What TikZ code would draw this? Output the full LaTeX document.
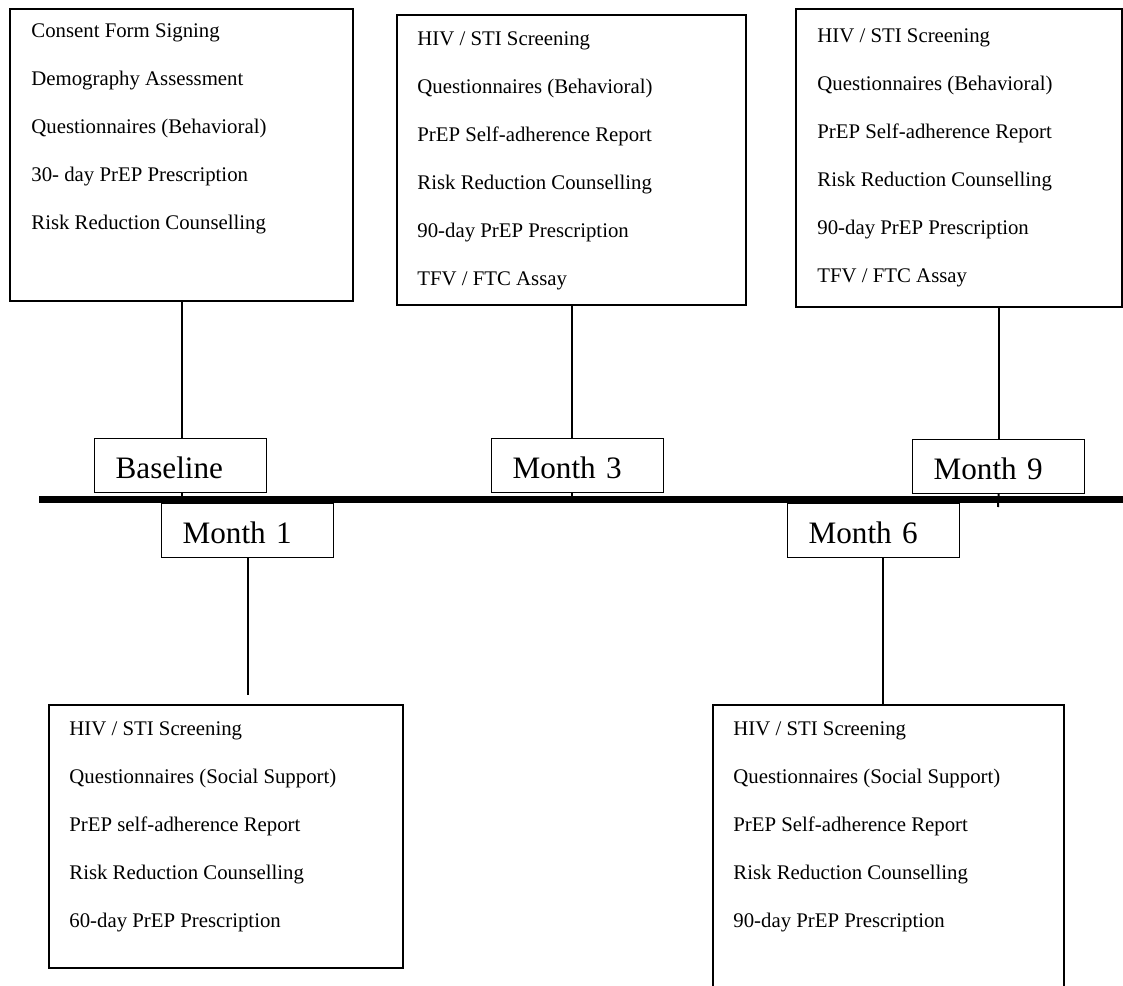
\documentclass[tikz,border=0pt]{standalone}
\usepackage{fontspec}
\setmainfont{Liberation Serif}
\begin{document}
\begin{tikzpicture}[x=0.5pt,y=-0.5pt,
  bigbox/.style={draw, line width=1pt, anchor=north west, inner sep=0pt},
  boxtext/.style={anchor=north west, inner sep=0pt, align=left, font=\fontsize{10.4pt}{24pt}\selectfont},
  lbl/.style={draw, line width=0.6pt, fill=white, anchor=north west, inner xsep=10.5pt, inner ysep=0pt,
              text width=65pt, align=left, text height=20pt, text depth=7pt,
              font=\fontsize{15.6pt}{18pt}\selectfont},
  conn/.style={line width=1pt},
  axis/.style={line width=3.5pt}
]
\useasboundingbox (0,0) rectangle (1123,985);
\clip (0,0) rectangle (1123,985);

% activity boxes
\node[bigbox, minimum width=171.5pt, minimum height=146pt] (A) at (9,8) {};
\node[boxtext] (At) at (31,8)
  {\rule{0pt}{14.5pt}Consent Form Signing\\ Demography Assessment\\ Questionnaires (Behavioral)\\ 30- day PrEP Prescription\\ Risk Reduction Counselling};

\node[bigbox, minimum width=174.5pt, minimum height=145pt] (B) at (396,14) {};
\node[boxtext] (Bt) at (417,14)
  {\rule{0pt}{15.5pt}HIV / STI Screening\\ Questionnaires (Behavioral)\\ PrEP Self-adherence Report\\ Risk Reduction Counselling\\ 90-day PrEP Prescription\\ TFV / FTC Assay};

\node[bigbox, minimum width=163pt, minimum height=149pt] (C) at (795,8) {};
\node[boxtext] (Ct) at (817,8)
  {\rule{0pt}{17pt}HIV / STI Screening\\ Questionnaires (Behavioral)\\ PrEP Self-adherence Report\\ Risk Reduction Counselling\\ 90-day PrEP Prescription\\ TFV / FTC Assay};

\node[bigbox, minimum width=177pt, minimum height=131.5pt] (D) at (48,704) {};
\node[boxtext] (Dt) at (69,704)
  {\rule{0pt}{15.5pt}HIV / STI Screening\\ Questionnaires (Social Support)\\ PrEP self-adherence Report\\ Risk Reduction Counselling\\ 60-day PrEP Prescription};

\node[bigbox, minimum width=175.5pt, minimum height=150pt] (E) at (712,704) {};
\node[boxtext] (Et) at (733,704)
  {\rule{0pt}{15.5pt}HIV / STI Screening\\ Questionnaires (Social Support)\\ PrEP Self-adherence Report\\ Risk Reduction Counselling\\ 90-day PrEP Prescription};

% timeline
\coordinate (tlL) at (39,499.5);
\coordinate (tlR) at (1123,499.5);
\draw[axis] (tlL) -- (tlR);

% time point labels
\node[lbl] (Base) at (94,438) {Baseline};
\node[lbl] (M1) at (161,503) {Month 1};
\node[lbl] (M3) at (491,438) {Month 3};
\node[lbl] (M9) at (912,439) {Month 9};
\node[lbl] (M6) at (787,503) {Month 6};

% connectors
\draw[conn] (A.south) -- (A.south |- Base.north);
\draw[conn] (A.south |- Base.south) -- (A.south |- tlL);
\draw[conn] (B.south) -- (B.south |- M3.north);
\draw[conn] (B.south |- M3.south) -- (B.south |- tlL);
\draw[conn] (M9.north |- C.south) -- (M9.north);
\coordinate (m9end) at (998,507);
\draw[conn] (M9.south) -- (m9end);
\draw[conn] (M1.south) -- ([yshift=4.5pt]M1.south |- D.north);
\draw[conn] ([xshift=4.75pt]M6.south) -- ([xshift=4.75pt]M6.south |- E.north);
\end{tikzpicture}
\end{document}
